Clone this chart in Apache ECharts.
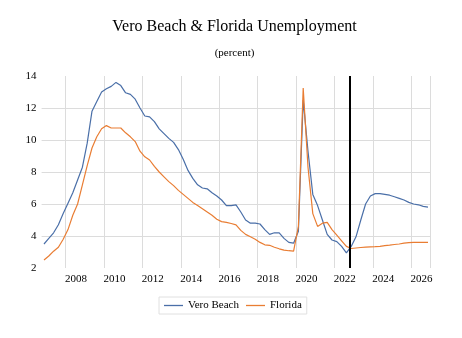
<!DOCTYPE html>
<html>
<head>
<meta charset="utf-8">
<script src="https://cdn.jsdelivr.net/npm/echarts@6/dist/echarts.min.js"></script>
<style>html,body{margin:0;padding:0;background:#fff}#c{width:462px;height:338px}</style>
</head>
<body>
<div id="c"></div>
<script>
// Quarterly observations, 2006Q4 .. 2026Q4
const quarters = [
  '2006Q4',
  '2007Q1','2007Q2','2007Q3','2007Q4','2008Q1','2008Q2','2008Q3','2008Q4',
  '2009Q1','2009Q2','2009Q3','2009Q4','2010Q1','2010Q2','2010Q3','2010Q4',
  '2011Q1','2011Q2','2011Q3','2011Q4','2012Q1','2012Q2','2012Q3','2012Q4',
  '2013Q1','2013Q2','2013Q3','2013Q4','2014Q1','2014Q2','2014Q3','2014Q4',
  '2015Q1','2015Q2','2015Q3','2015Q4','2016Q1','2016Q2','2016Q3','2016Q4',
  '2017Q1','2017Q2','2017Q3','2017Q4','2018Q1','2018Q2','2018Q3','2018Q4',
  '2019Q1','2019Q2','2019Q3','2019Q4','2020Q1','2020Q2','2020Q3','2020Q4',
  '2021Q1','2021Q2','2021Q3','2021Q4','2022Q1','2022Q2','2022Q3','2022Q4',
  '2023Q1','2023Q2','2023Q3','2023Q4','2024Q1','2024Q2','2024Q3','2024Q4',
  '2025Q1','2025Q2','2025Q3','2025Q4','2026Q1','2026Q2','2026Q3','2026Q4'
];
const veroBeach = [
  3.5, 3.85, 4.2, 4.7, 5.4, 6.05, 6.7, 7.5, 8.3, 9.8,
  11.8, 12.4, 13.0, 13.2, 13.35, 13.6, 13.4, 12.95, 12.85, 12.55,
  12.0, 11.5, 11.45, 11.15, 10.7, 10.4, 10.1, 9.85, 9.4, 8.8,
  8.1, 7.6, 7.2, 7.0, 6.95, 6.7, 6.5, 6.25, 5.9, 5.9,
  5.95, 5.5, 5.0, 4.8, 4.8, 4.75, 4.4, 4.1, 4.2, 4.2,
  3.85, 3.6, 3.55, 4.3, 12.5, 9.3, 6.6, 5.9, 5.0, 4.1,
  3.75, 3.65, 3.35, 2.95, 3.35, 3.95, 5.0, 6.0, 6.5, 6.65,
  6.65, 6.6, 6.55, 6.45, 6.35, 6.25, 6.1, 6.0, 5.95, 5.85, 5.8
];
const florida = [
  2.5, 2.75, 3.05, 3.3, 3.8, 4.4, 5.3, 6.0, 7.2, 8.4,
  9.5, 10.2, 10.7, 10.9, 10.75, 10.75, 10.75, 10.45, 10.2, 9.9,
  9.3, 8.95, 8.75, 8.35, 8.0, 7.7, 7.4, 7.15, 6.85, 6.6,
  6.35, 6.1, 5.9, 5.7, 5.5, 5.3, 5.05, 4.9, 4.85, 4.78,
  4.7, 4.35, 4.1, 3.95, 3.8, 3.6, 3.45, 3.42, 3.3, 3.2,
  3.12, 3.08, 3.05, 4.6, 13.25, 8.3, 5.4, 4.6, 4.8, 4.85,
  4.4, 4.05, 3.7, 3.35, 3.22, 3.25, 3.28, 3.3, 3.32, 3.33,
  3.35, 3.4, 3.43, 3.47, 3.5, 3.55, 3.58, 3.6, 3.6, 3.6, 3.6
];
const yTicks = [2, 4, 6, 8, 10, 12, 14];
const forecastStart = '2022-10';

// Monthly category axis (Oct 2006 .. Dec 2026); quarterly values sit on each quarter's middle month
const months = [];
for (let y = 2006; y <= 2026; y++) {
  for (let m = 1; m <= 12; m++) {
    if (y === 2006 && m < 10) continue;
    months.push(y + '-' + String(m).padStart(2, '0'));
  }
}
function quarterMidMonth(q) {
  const y = q.slice(0, 4), n = +q.slice(5);
  return y + '-' + String(n * 3 - 1).padStart(2, '0');
}
function toMonthly(vals) {
  const map = {};
  quarters.forEach((q, i) => { map[quarterMidMonth(q)] = vals[i]; });
  return months.map(m => (m in map ? map[m] : null));
}

const FONT = 'Liberation Serif';
const BLUE = '#4a6fa8', ORANGE = '#e97d33';
const chart = echarts.init(document.getElementById('c'), null, { renderer: 'canvas' });
chart.setOption({
  animation: false,
  backgroundColor: '#fff',
  title: [
    { text: 'Vero Beach & Florida Unemployment', left: 229.5, textAlign: 'center', top: 14,
      textStyle: { fontFamily: FONT, fontSize: 16, fontWeight: 'normal', color: '#000' } },
    { text: '(percent)', left: 229.5, textAlign: 'center', top: 43,
      textStyle: { fontFamily: FONT, fontSize: 11, fontWeight: 'normal', color: '#000' } }
  ],
  legend: {
    data: [{ name: 'Vero Beach', icon: 'rect' }, { name: 'Florida', icon: 'rect' }],
    left: 159, top: 297,
    borderColor: '#e0e0e0', borderWidth: 1, padding: [3, 5],
    itemWidth: 19, itemHeight: 1.3, itemGap: 7,
    textStyle: { fontFamily: FONT, fontSize: 11, color: '#000' }
  },
  grid: { left: 41.6, right: 31.6, top: 76, bottom: 70 },
  xAxis: {
    type: 'category', data: months, boundaryGap: true,
    axisLine: { show: false }, axisTick: { show: false },
    axisLabel: {
      interval: (i, v) => v.slice(5) === '07' && (+v.slice(0, 4)) % 2 === 0,
      formatter: v => v.slice(0, 4),
      fontFamily: FONT, fontSize: 11, color: '#000', margin: 6
    },
    splitLine: {
      show: true,
      interval: (i, v) => v.slice(5) === '01' && (+v.slice(0, 4)) % 2 === 0,
      lineStyle: { color: '#dcdcdc', width: 1 }
    }
  },
  yAxis: {
    type: 'value', min: yTicks[0], max: yTicks[yTicks.length - 1], interval: 2,
    axisLine: { show: false }, axisTick: { show: false },
    axisLabel: { fontFamily: FONT, fontSize: 11, color: '#000', margin: 5 },
    splitLine: { show: true, showMinLine: false, showMaxLine: false, lineStyle: { color: '#dcdcdc', width: 1 } }
  },
  series: [
    { name: 'Vero Beach', type: 'line', data: toMonthly(veroBeach), connectNulls: true,
      symbol: 'none', smooth: false, color: BLUE, lineStyle: { width: 1.2, color: BLUE },
      markLine: { silent: true, symbol: 'none', label: { show: false },
        lineStyle: { color: '#000', width: 2, type: 'solid' },
        data: [{ xAxis: forecastStart }] } },
    { name: 'Florida', type: 'line', data: toMonthly(florida), connectNulls: true,
      symbol: 'none', smooth: false, color: ORANGE, lineStyle: { width: 1.2, color: ORANGE } }
  ]
});
</script>
</body>
</html>
